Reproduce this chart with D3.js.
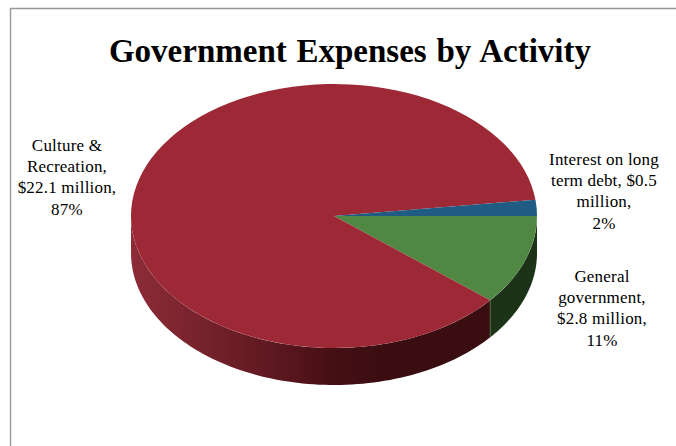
<!DOCTYPE html>
<html>
<head>
<meta charset="utf-8">
<script src="https://cdn.jsdelivr.net/npm/d3@7"></script>
<style>
html, body { margin: 0; padding: 0; background: #fff; }
svg { display: block; }
text { font-family: "Liberation Serif", serif; fill: #000; }
</style>
</head>
<body>
<script>
// Expense activities in clockwise drawing order, starting due east
const activities = ["General government", "Culture & Recreation", "Interest on long term debt"];
const amounts = [2.8, 22.1, 0.5];
const topColors = ["#4f8743", "#9e2936", "#1f5b83"];
const labelLines = [
  ["General", "government,", "$2.8 million,", "11%"],
  ["Culture &", "Recreation,", "$22.1 million,", "87%"],
  ["Interest on long", "term debt, $0.5", "million,", "2%"]
];
const titleText = "Government Expenses by Activity";

const width = 676, height = 446;
const cx = 334, cy = 216, rx = 203, ry = 132, depth = 37;

const svg = d3.select("body").append("svg")
  .attr("width", width).attr("height", height);

// Chart frame: only the top and left edges fall inside the page
svg.append("path")
  .attr("d", "M10.5,446V8.5H676")
  .attr("fill", "none")
  .attr("stroke", "#979797")
  .attr("stroke-width", 1.4);

const pie = d3.pie().sort(null).startAngle(Math.PI / 2).endAngle(Math.PI * 2.5);
const slices = pie(amounts);

// Projects a d3.pie angle (clockwise from north) onto the tilted disc
const px = a => cx + rx * Math.sin(a);
const py = a => cy - ry * Math.cos(a);

const defs = svg.append("defs");
const sideShade = defs.append("linearGradient")
  .attr("id", "redSide")
  .attr("gradientUnits", "userSpaceOnUse")
  .attr("x1", cx - rx).attr("x2", cx + rx).attr("y1", 0).attr("y2", 0);
[[0, "#8c2c38"], [0.12, "#7d2530"], [0.3, "#651b24"], [0.5, "#450f14"], [0.62, "#3a0d11"], [1, "#3a0d11"]]
  .forEach(([o, c]) => sideShade.append("stop").attr("offset", o).attr("stop-color", c));
const sideFills = ["#1c3318", "url(#redSide)", "#1c3318"];

// Outer wall, only for the part of each slice facing the viewer
const wall = svg.append("g");
slices.forEach((s, i) => {
  const a0 = Math.max(s.startAngle, Math.PI / 2);
  const a1 = Math.min(s.endAngle, Math.PI * 1.5);
  if (a1 <= a0) return;
  const steps = d3.range(0, 91).map(k => a0 + (a1 - a0) * k / 90);
  const line = d3.line();
  const edge = steps.map(a => [px(a), py(a)]);
  const lower = steps.slice().reverse().map(a => [px(a), py(a) + depth]);
  wall.append("path")
    .attr("d", line(edge.concat(lower)) + "Z")
    .attr("fill", sideFills[i]);
});

// Thin light seam where the green and red walls meet
const seamAngle = slices[0].endAngle;
wall.append("line")
  .attr("x1", px(seamAngle)).attr("y1", py(seamAngle))
  .attr("x2", px(seamAngle)).attr("y2", py(seamAngle) + depth)
  .attr("stroke", "#4d6b40").attr("stroke-width", 1);

// Top of the disc: circular arcs squashed into an ellipse
const arc = d3.arc().innerRadius(0).outerRadius(rx);
svg.append("g")
  .attr("transform", `translate(${cx},${cy}) scale(1,${ry / rx})`)
  .selectAll("path")
  .data(slices)
  .join("path")
  .attr("d", arc)
  .attr("fill", (d, i) => topColors[i]);

svg.append("text")
  .attr("x", 350).attr("y", 62)
  .attr("text-anchor", "middle")
  .attr("font-size", 33).attr("font-weight", "bold")
  .attr("word-spacing", 1.5)
  .text(titleText);

// Data labels, centred on each block's own anchor
const labelAnchors = [[602, 282], [67, 151], [604, 165]];
const lineHeight = 21.2;
labelLines.forEach((lines, i) => {
  svg.append("text")
    .attr("font-size", 17)
    .attr("letter-spacing", 0.2)
    .attr("text-anchor", "middle")
    .selectAll("tspan")
    .data(lines)
    .join("tspan")
    .attr("x", labelAnchors[i][0])
    .attr("y", (d, k) => labelAnchors[i][1] + k * lineHeight)
    .text(d => d);
});
</script>
</body>
</html>
